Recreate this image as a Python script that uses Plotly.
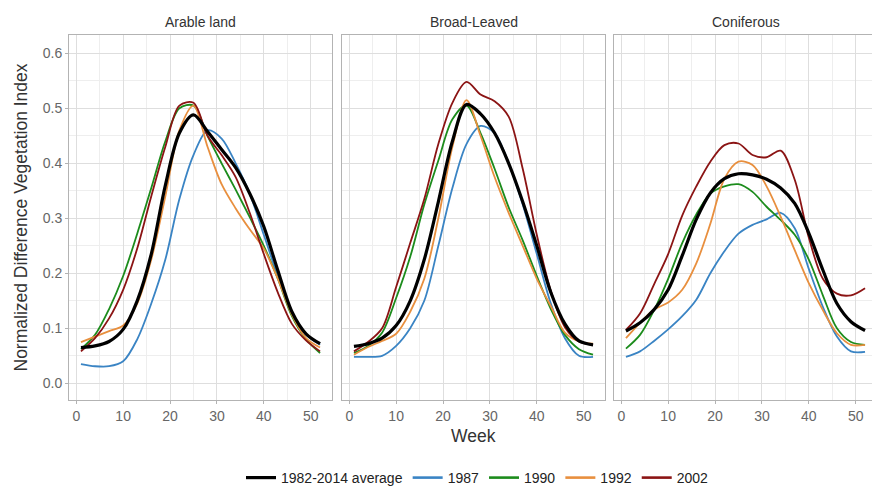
import plotly.graph_objects as go

weeks = [1, 4, 7, 10, 13, 16, 19, 22, 25, 28, 31, 34, 37, 40, 43, 46, 49, 52]

series_names = ["1982-2014 average", "1987", "1990", "1992", "2002"]
series_colors = ["#000000", "#3a84c4", "#1c8c1c", "#e88f3e", "#8b1414"]
series_widths = [3.2, 1.8, 1.8, 1.8, 1.8]

panel_titles = ["Arable land", "Broad-Leaved", "Coniferous"]

# Arable land
arable_avg = [0.065, 0.068, 0.076, 0.098, 0.150, 0.235, 0.360, 0.455, 0.488, 0.458, 0.425, 0.392, 0.345, 0.285, 0.205, 0.130, 0.090, 0.072]
arable_1987 = [0.035, 0.031, 0.031, 0.040, 0.080, 0.145, 0.225, 0.335, 0.415, 0.460, 0.445, 0.400, 0.345, 0.270, 0.195, 0.130, 0.090, 0.070]
arable_1990 = [0.062, 0.088, 0.135, 0.195, 0.272, 0.355, 0.440, 0.500, 0.505, 0.450, 0.400, 0.352, 0.302, 0.250, 0.190, 0.122, 0.080, 0.055]
arable_1992 = [0.075, 0.085, 0.095, 0.105, 0.145, 0.225, 0.340, 0.460, 0.505, 0.430, 0.362, 0.318, 0.280, 0.245, 0.190, 0.125, 0.082, 0.065]
arable_2002 = [0.058, 0.082, 0.118, 0.170, 0.245, 0.340, 0.430, 0.505, 0.510, 0.450, 0.415, 0.375, 0.310, 0.235, 0.165, 0.108, 0.078, 0.058]

# Broad-Leaved
broad_avg = [0.067, 0.072, 0.082, 0.105, 0.150, 0.225, 0.330, 0.440, 0.507, 0.490, 0.455, 0.400, 0.330, 0.250, 0.165, 0.108, 0.077, 0.070]
broad_1987 = [0.048, 0.048, 0.050, 0.068, 0.100, 0.150, 0.250, 0.355, 0.435, 0.468, 0.455, 0.400, 0.325, 0.235, 0.145, 0.082, 0.050, 0.048]
broad_1990 = [0.055, 0.068, 0.092, 0.155, 0.230, 0.325, 0.405, 0.480, 0.505, 0.455, 0.390, 0.320, 0.260, 0.195, 0.135, 0.088, 0.062, 0.052]
broad_1992 = [0.052, 0.066, 0.077, 0.090, 0.130, 0.190, 0.300, 0.430, 0.515, 0.450, 0.375, 0.310, 0.250, 0.190, 0.140, 0.092, 0.076, 0.072]
broad_2002 = [0.058, 0.075, 0.100, 0.175, 0.255, 0.335, 0.435, 0.510, 0.548, 0.525, 0.513, 0.485, 0.390, 0.270, 0.168, 0.102, 0.076, 0.070]

# Coniferous
conif_avg = [0.095, 0.110, 0.134, 0.170, 0.232, 0.298, 0.346, 0.372, 0.381, 0.379, 0.371, 0.355, 0.327, 0.273, 0.206, 0.145, 0.112, 0.096]
conif_1987 = [0.048, 0.058, 0.077, 0.098, 0.122, 0.152, 0.200, 0.240, 0.272, 0.288, 0.298, 0.310, 0.282, 0.208, 0.139, 0.085, 0.058, 0.057]
conif_1990 = [0.063, 0.088, 0.133, 0.190, 0.255, 0.307, 0.345, 0.358, 0.362, 0.348, 0.321, 0.297, 0.270, 0.225, 0.160, 0.100, 0.075, 0.070]
conif_1992 = [0.082, 0.110, 0.134, 0.147, 0.170, 0.218, 0.290, 0.372, 0.403, 0.397, 0.358, 0.303, 0.242, 0.182, 0.133, 0.091, 0.070, 0.070]
conif_2002 = [0.097, 0.127, 0.180, 0.235, 0.305, 0.358, 0.403, 0.433, 0.436, 0.415, 0.411, 0.423, 0.370, 0.265, 0.190, 0.163, 0.160, 0.173]

panels = [
    [arable_avg, arable_1987, arable_1990, arable_1992, arable_2002],
    [broad_avg, broad_1987, broad_1990, broad_1992, broad_2002],
    [conif_avg, conif_1987, conif_1990, conif_1992, conif_2002],
]

x_ticks = [0, 10, 20, 30, 40, 50]
y_ticks = [0.0, 0.1, 0.2, 0.3, 0.4, 0.5, 0.6]
y_tick_text = ["0.0", "0.1", "0.2", "0.3", "0.4", "0.5", "0.6"]

W, H = 872, 487
FONT = "Liberation Sans, Arial, sans-serif"

fig = go.Figure()
for p, panel in enumerate(panels):
    ax = "" if p == 0 else str(p + 1)
    order = [1, 2, 3, 4, 0]  # average drawn on top
    for s in order:
        fig.add_trace(go.Scatter(
            x=weeks, y=panel[s], mode="lines",
            name=series_names[s], showlegend=False,
            line=dict(color=series_colors[s], width=series_widths[s], shape="spline", smoothing=0.9),
            xaxis="x" + ax, yaxis="y" + ax, hoverinfo="skip",
        ))

# legend entries in the reference order
for s in range(5):
    fig.add_trace(go.Scatter(
        x=[None], y=[None], mode="lines", name=series_names[s],
        line=dict(color=series_colors[s], width=3.2 if s == 0 else 2.6),
        showlegend=True, xaxis="x", yaxis="y",
    ))

top_px, bot_px = 35, 400
ydom = [1 - bot_px / H, 1 - top_px / H]
xdoms = [[69 / W, 332 / W], [342 / W, 605 / W], [614 / W, 1.0]]
px_per_week = 263 / 56.1
xranges = [[-1.55, 54.55], [-1.55, 54.55], [-1.55, -1.55 + 258 / px_per_week]]
yrange = [-0.0304, 0.6333]

grid_major = "#dedede"
grid_minor = "#eeeeee"
border = "#b3b3b3"
tick_col = "#666666"

layout = dict(
    width=W, height=H,
    margin=dict(l=0, r=0, t=0, b=0, autoexpand=False),
    paper_bgcolor="white", plot_bgcolor="white",
    font=dict(family=FONT, color="#333333"),
    showlegend=True,
    legend=dict(orientation="h", x=0.5476, xanchor="center", y=1 - 478 / H, yanchor="middle",
                font=dict(size=14, color="#222222", family=FONT), itemwidth=30,
                traceorder="normal", bgcolor="rgba(0,0,0,0)"),
)

for p in range(3):
    ax = "" if p == 0 else str(p + 1)
    layout["xaxis" + ax] = dict(
        domain=xdoms[p], range=xranges[p], anchor="y" + ax,
        tickvals=x_ticks, ticks="outside", ticklen=3, tickcolor=border,
        tickfont=dict(size=14, color=tick_col, family=FONT),
        showgrid=True, gridcolor=grid_major, gridwidth=1,
        minor=dict(dtick=5, tick0=5, showgrid=True, gridcolor=grid_minor, gridwidth=1, ticks=""),
        showline=True, linecolor=border, linewidth=1, mirror=True,
        zeroline=False, fixedrange=True,
    )
    layout["yaxis" + ax] = dict(
        domain=ydom, range=yrange, anchor="x" + ax,
        tickvals=y_ticks, ticktext=y_tick_text,
        ticks="outside" if p == 0 else "", ticklen=3, tickcolor=border,
        showticklabels=(p == 0),
        tickfont=dict(size=14, color=tick_col, family=FONT),
        showgrid=True, gridcolor=grid_major, gridwidth=1,
        minor=dict(dtick=0.05, tick0=0.05, showgrid=True, gridcolor=grid_minor, gridwidth=1, ticks=""),
        showline=True, linecolor=border, linewidth=1, mirror=(p < 2),
        zeroline=False, fixedrange=True,
    )

annotations = []
centers = [200.5, 473.5, 745.5]
for p in range(3):
    annotations.append(dict(text=panel_titles[p], x=centers[p] / W, y=1 - 22 / H,
                            xref="paper", yref="paper", showarrow=False,
                            xanchor="center", yanchor="middle",
                            font=dict(size=14, color="#333333", family=FONT)))
annotations.append(dict(text="Week", x=473 / W, y=1 - 436 / H, xref="paper", yref="paper",
                        showarrow=False, xanchor="center", yanchor="middle",
                        font=dict(size=17.5, color="#333333", family=FONT)))
annotations.append(dict(text="Normalized Difference Vegetation Index", x=20 / W, y=1 - 217.5 / H,
                        xref="paper", yref="paper", showarrow=False, textangle=-90,
                        xanchor="center", yanchor="middle",
                        font=dict(size=17.5, color="#333333", family=FONT)))
layout["annotations"] = annotations

fig.update_layout(**layout)
fig.write_html("out.html")
